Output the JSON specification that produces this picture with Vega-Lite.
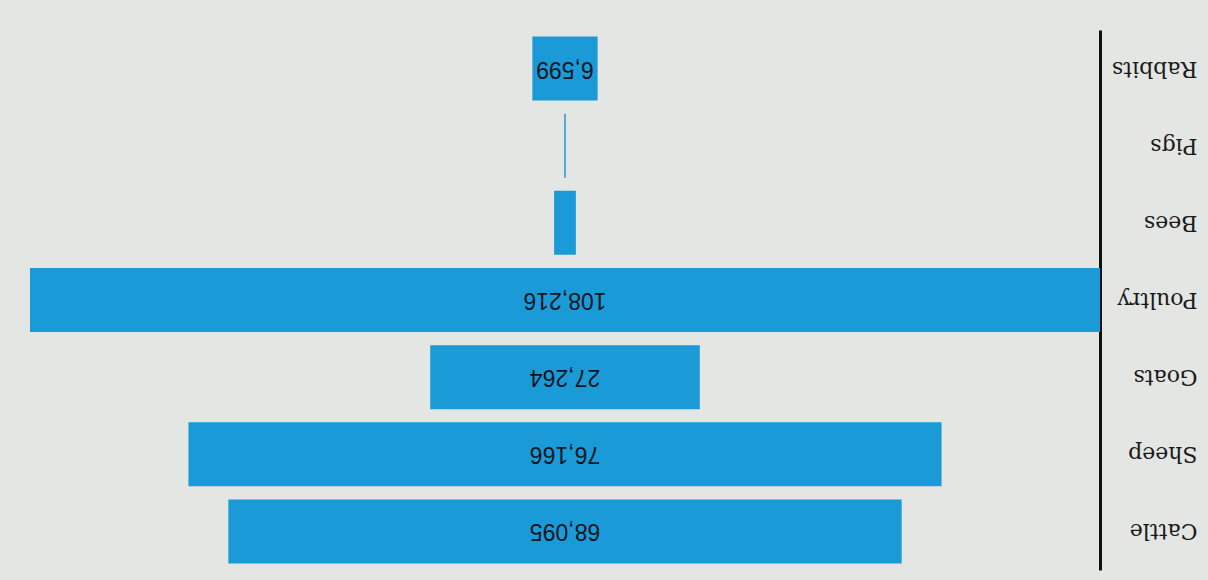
{
  "$schema": "https://vega.github.io/schema/vega-lite/v6.json",
  "width": 1070,
  "height": 540,
  "autosize": {"type": "none"},
  "padding": {"left": 30, "top": 30, "right": 108, "bottom": 10},
  "background": "#e4e6e3",
  "config": {"view": {"stroke": null}},
  "data": {
    "values": [
      {"animal": "Cattle", "value": 68095},
      {"animal": "Sheep", "value": 76166},
      {"animal": "Goats", "value": 27264},
      {"animal": "Poultry", "value": 108216},
      {"animal": "Bees", "value": 2200},
      {"animal": "Pigs", "value": 150},
      {"animal": "Rabbits", "value": 6599}
    ]
  },
  "encoding": {
    "y": {
      "field": "animal",
      "type": "nominal",
      "sort": ["Rabbits", "Pigs", "Bees", "Poultry", "Goats", "Sheep", "Cattle"],
      "scale": {"paddingInner": 0.17, "paddingOuter": 0.085},
      "axis": {
        "orient": "right",
        "title": null,
        "ticks": false,
        "domainColor": "#111111",
        "domainWidth": 3,
        "labelAngle": 180,
        "labelAlign": "left",
        "labelBaseline": "middle",
        "labelPadding": 97,
        "labelFont": "DejaVu Serif",
        "labelFontSize": 22,
        "labelColor": "#1a1a1a"
      }
    }
  },
  "layer": [
    {
      "mark": {"type": "bar", "color": "#1a9ad6"},
      "encoding": {
        "x": {
          "field": "value",
          "type": "quantitative",
          "stack": "center",
          "scale": {"domain": [0, 108216], "nice": false, "zero": false},
          "axis": null
        }
      }
    },
    {
      "transform": [{"filter": "datum.value > 5000"}],
      "mark": {"type": "text", "angle": 180, "font": "Liberation Sans", "fontSize": 23, "color": "#15151f", "baseline": "middle", "align": "center"},
      "encoding": {
        "x": {"datum": 54108, "type": "quantitative"},
        "text": {"field": "value", "type": "quantitative", "format": ","}
      }
    }
  ]
}
